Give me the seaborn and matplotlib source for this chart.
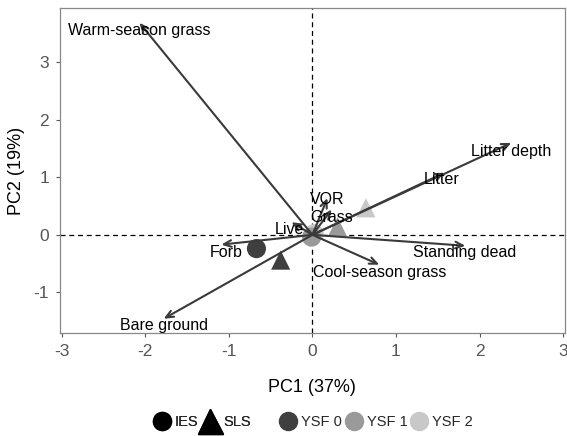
import matplotlib
matplotlib.use("Agg")
import matplotlib.pyplot as plt
from matplotlib.lines import Line2D
import seaborn as sns
import pandas as pd

# Loadings (arrow tips) and label positions
variables = ["Warm-season grass", "Litter depth", "Litter", "Standing dead",
             "Cool-season grass", "Bare ground", "Forb", "Live", "VOR", "Grass"]
pc1_load = [-2.07, 2.38, 1.58, 1.83, 0.80, -1.78, -1.09, -0.25, 0.18, 0.23]
pc2_load = [3.69, 1.60, 1.08, -0.19, -0.52, -1.46, -0.17, 0.22, 0.64, 0.44]
label_x = [-2.07, 2.38, 1.55, 1.82, 0.80, -1.78, -1.03, -0.27, 0.18, 0.23]
label_y = [3.55, 1.45, 0.96, -0.31, -0.66, -1.58, -0.31, 0.09, 0.61, 0.31]

# Site scores (group centroids)
site = ["IES", "SLS", "IES", "SLS", "IES", "SLS"]
ysf = ["YSF 2", "YSF 2", "YSF 1", "YSF 1", "YSF 0", "YSF 0"]
pc1_score = [0.02, 0.64, -0.01, 0.30, -0.67, -0.38]
pc2_score = [0.02, 0.47, -0.04, 0.14, -0.24, -0.44]

ysf_levels = ["YSF 0", "YSF 1", "YSF 2"]
ysf_colors = ["#3f3f3f", "#9a9a9a", "#c8c8c8"]

df = pd.DataFrame({"PC1": pc1_score, "PC2": pc2_score, "Site": site, "YSF": ysf})

sns.set_theme(style="white")
plt.rcParams["font.family"] = ["Liberation Sans", "DejaVu Sans"]
plt.rcParams["axes.unicode_minus"] = False

fig = plt.figure(figsize=(5.67, 4.36), dpi=100)
ax = fig.add_axes([0.106, 0.236, 0.89, 0.746])

ax.axhline(0, color="black", lw=0.9, ls=(0, (4, 3)), zorder=1)
ax.axvline(0, color="black", lw=0.9, ls=(0, (4, 3)), zorder=1)

sns.scatterplot(data=df, x="PC1", y="PC2", hue="YSF", style="Site",
                hue_order=ysf_levels, palette=ysf_colors,
                markers={"IES": "o", "SLS": "^"}, s=190, edgecolor="none",
                legend=False, ax=ax, zorder=2)

for v, x, y, lx, ly in zip(variables, pc1_load, pc2_load, label_x, label_y):
    ax.annotate("", xy=(x, y), xytext=(0, 0),
                arrowprops=dict(arrowstyle="->,head_length=0.45,head_width=0.2",
                                color="#3a3a3a", lw=1.5, shrinkA=0, shrinkB=0),
                zorder=3)
    ax.text(lx, ly, v, ha="center", va="center", fontsize=11.5, color="black", zorder=4)

ax.set_xlim(-3.02, 3.02)
ax.set_ylim(-1.71, 3.95)
ax.set_xticks([-3, -2, -1, 0, 1, 2, 3])
ax.set_yticks([-1, 0, 1, 2, 3])
ax.set_xlabel("PC1 (37%)", fontsize=13, color="black", labelpad=14)
ax.set_ylabel("PC2 (19%)", fontsize=13, color="black", labelpad=6)
ax.tick_params(axis="both", labelsize=12.5, colors="#555555", length=3, width=0.8,
               direction="out", bottom=True, left=True, pad=5)
for sp in ax.spines.values():
    sp.set_color("#888888")
    sp.set_linewidth(0.9)

h_site = [Line2D([], [], marker="o", ls="", color="black", markersize=13),
          Line2D([], [], marker="^", ls="", color="black", markersize=18)]
leg1 = fig.legend(h_site, ["IES", "SLS"], loc="center", bbox_to_anchor=(0.355, 0.032),
                  ncol=2, frameon=False, fontsize=10.5, handletextpad=0.2,
                  columnspacing=0.1, handlelength=1.4)
fig.add_artist(leg1)
h_ysf = [Line2D([], [], marker="o", ls="", color=c, markersize=13) for c in ysf_colors]
fig.legend(h_ysf, ysf_levels, loc="center", bbox_to_anchor=(0.662, 0.032),
           ncol=3, frameon=False, fontsize=10.5, handletextpad=0.2,
           columnspacing=0.1, handlelength=1.4)

fig.savefig("out.png", dpi=100)
